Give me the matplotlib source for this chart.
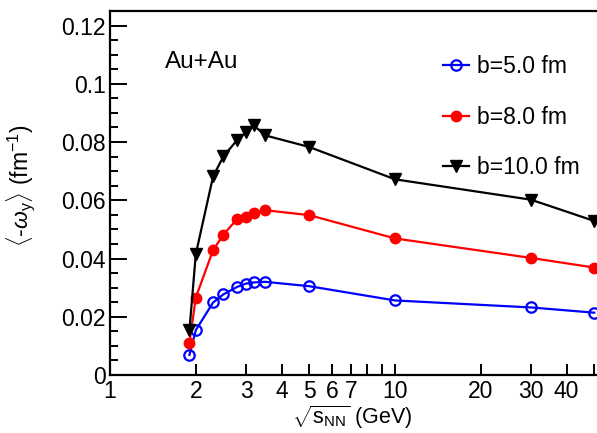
import matplotlib
matplotlib.use("Agg")
import matplotlib.pyplot as plt
from matplotlib.ticker import FixedLocator, FixedFormatter, MultipleLocator, FuncFormatter

plt.rcParams['font.family'] = ['Liberation Sans', 'DejaVu Sans']
plt.rcParams['mathtext.fontset'] = 'custom'
plt.rcParams['mathtext.rm'] = 'Liberation Sans'
plt.rcParams['mathtext.it'] = 'Liberation Sans:italic'
plt.rcParams['mathtext.bf'] = 'Liberation Sans:bold'

# Data
sqrt_s = [1.9, 2.0, 2.3, 2.5, 2.8, 3.0, 3.2, 3.5, 5.0, 10.0, 30.0, 50.0]
b5 = [0.0069, 0.0154, 0.0249, 0.0277, 0.0303, 0.0314, 0.0318, 0.0320, 0.0305, 0.0256, 0.0232, 0.0214]
b8 = [0.0111, 0.0266, 0.0429, 0.0482, 0.0537, 0.0543, 0.0556, 0.0566, 0.0549, 0.0469, 0.0402, 0.0369]
b10 = [0.0154, 0.0415, 0.0682, 0.0751, 0.0808, 0.0834, 0.0857, 0.0823, 0.0783, 0.0672, 0.0602, 0.0529]
labels = ["b=5.0 fm", "b=8.0 fm", "b=10.0 fm"]
x_ticks = [1, 2, 3, 4, 5, 6, 7, 8, 9, 10, 20, 30, 40, 50]
x_ticklabels = ["1", "2", "3", "4", "5", "6", "7", "", "", "10", "20", "30", "40", ""]

FS = 16.5
fig = plt.figure(figsize=(5.97, 4.33), dpi=100)
ax = fig.add_axes([110/597, 1-375/433, 506.8/597, 364/433])

ax.plot(sqrt_s, b5, color='#0000ff', lw=1.6, marker='o', ms=7.5, mfc='none', mew=1.6, label=labels[0])
ax.plot(sqrt_s, b8, color='#ff0000', lw=1.6, marker='o', ms=7.5, mfc='#ff0000', mew=1.0, label=labels[1])
ax.plot(sqrt_s, b10, color='black', lw=1.6, marker='v', ms=8, mfc='black', label=labels[2])

ax.set_xscale('log')
ax.set_xlim(1, 60)
ax.set_ylim(0, 0.125)
ax.xaxis.set_major_locator(FixedLocator(x_ticks))
ax.xaxis.set_major_formatter(FixedFormatter(x_ticklabels))
ax.xaxis.set_minor_locator(FixedLocator([]))
ax.yaxis.set_major_locator(MultipleLocator(0.02))
ax.yaxis.set_minor_locator(MultipleLocator(0.005))
ax.yaxis.set_major_formatter(FuncFormatter(lambda v, p: "0" if abs(v) < 1e-9 else f"{v:.2f}".rstrip('0')))

ax.spines['right'].set_visible(False)
for s in ax.spines.values():
    s.set_linewidth(1.6)
ax.tick_params(axis='both', which='major', direction='in', labelsize=FS, width=1.4)
ax.tick_params(axis='y', which='major', length=12, pad=3)
ax.tick_params(axis='y', which='minor', direction='in', length=6, width=1.4)
ax.tick_params(axis='x', which='major', length=8, pad=3.5)

ax.text(0.108, 0.86, "Au+Au", transform=ax.transAxes, fontsize=FS+1, va='center', ha='left')

ax.set_xlabel(r"$\sqrt{\mathrm{s}_{\mathrm{NN}}}$ (GeV)", fontsize=FS-1, labelpad=0)
ax.xaxis.set_label_coords(0.478, -0.078)
ax.set_ylabel(r"$\langle$-$\omega_{\mathrm{y}}\rangle$ (fm$^{\mathrm{-1}}$)", fontsize=FS)
ax.yaxis.set_label_coords(-0.145, 0.52)

ax.legend(loc='upper left', bbox_to_anchor=(0.658, 0.878), frameon=False, fontsize=FS,
          handlelength=1.1, handletextpad=0.35, labelspacing=1.2, borderpad=0, borderaxespad=0,
          numpoints=1)

fig.savefig("out.png", dpi=100)
